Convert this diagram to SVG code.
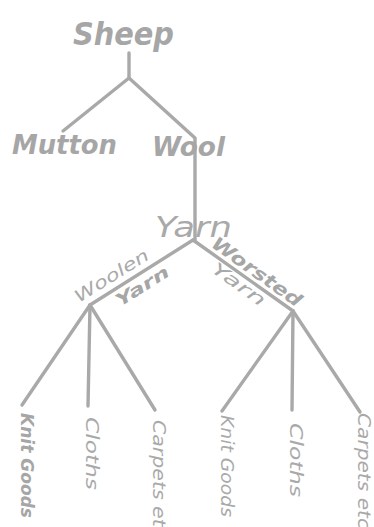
<svg xmlns="http://www.w3.org/2000/svg" width="374" height="527" viewBox="0 0 374 527">
<style>
.ln{stroke:#a9a9a9;stroke-width:3.4;fill:none;stroke-linecap:round;stroke-linejoin:round}
.b{font-family:"DejaVu Sans","Liberation Sans",sans-serif;font-weight:bold;font-style:italic;fill:#a6a6a6}
.n{font-family:"DejaVu Sans","Liberation Sans",sans-serif;font-style:italic;fill:#a9a9a9}
</style>
<rect width="374" height="527" fill="#ffffff"/>
<g id="connectors">
<path class="ln" d="M129,53 L129,78 L63,131"/>
<path class="ln" d="M129,78 L195,138 L195,240"/>
<path class="ln" d="M193,240 L90,305"/>
<path class="ln" d="M193,240 L293,311"/>
<path class="ln" d="M90,305 L22,405"/>
<path class="ln" d="M90,305 L88,406"/>
<path class="ln" d="M90,305 L155,410"/>
<path class="ln" d="M293,311 L222,411"/>
<path class="ln" d="M293,311 L292,410"/>
<path class="ln" d="M293,311 L360,412"/>
</g>
<g id="sheep"><text class="b" x="73" y="45" font-size="32" textLength="101" lengthAdjust="spacingAndGlyphs">Sheep</text></g>
<g id="mutton"><text class="b" x="12" y="154" font-size="26" textLength="105" lengthAdjust="spacingAndGlyphs">Mutton</text></g>
<g id="wool"><text class="b" x="152" y="156" font-size="27" textLength="73" lengthAdjust="spacingAndGlyphs">Wool</text></g>
<g id="yarn"><text class="n" x="155" y="237" font-size="28" textLength="77" lengthAdjust="spacingAndGlyphs">Yarn</text></g>
<g id="woolen-yarn">
<text class="n" transform="translate(79,303) rotate(-32)" font-size="17" textLength="84" lengthAdjust="spacingAndGlyphs">Woolen</text>
<text class="b" transform="translate(120,307) rotate(-32)" font-size="17" textLength="60" lengthAdjust="spacingAndGlyphs">Yarn</text>
</g>
<g id="worsted-yarn">
<text class="b" transform="translate(210,246) rotate(35.5)" font-size="18" textLength="106" lengthAdjust="spacingAndGlyphs">Worsted</text>
<text class="n" transform="translate(210,271) rotate(35.5)" font-size="17" textLength="62" lengthAdjust="spacingAndGlyphs">Yarn</text>
</g>
<g id="knit-goods-1"><text class="b" transform="translate(21,413) rotate(90)" font-size="18" textLength="105" lengthAdjust="spacingAndGlyphs">Knit Goods</text></g>
<g id="cloths-1"><text class="n" transform="translate(86,417) rotate(90)" font-size="17" textLength="73" lengthAdjust="spacingAndGlyphs">Cloths</text></g>
<g id="carpets-1"><text class="n" transform="translate(153,420) rotate(90)" font-size="18" textLength="118" lengthAdjust="spacingAndGlyphs">Carpets etc</text></g>
<g id="knit-goods-2"><text class="n" transform="translate(221,415) rotate(90)" font-size="17" textLength="102" lengthAdjust="spacingAndGlyphs">Knit Goods</text></g>
<g id="cloths-2"><text class="n" transform="translate(290,423) rotate(90)" font-size="17" textLength="74" lengthAdjust="spacingAndGlyphs">Cloths</text></g>
<g id="carpets-2"><text class="n" transform="translate(358,413) rotate(90)" font-size="17" textLength="116" lengthAdjust="spacingAndGlyphs">Carpets etc</text></g>
</svg>
